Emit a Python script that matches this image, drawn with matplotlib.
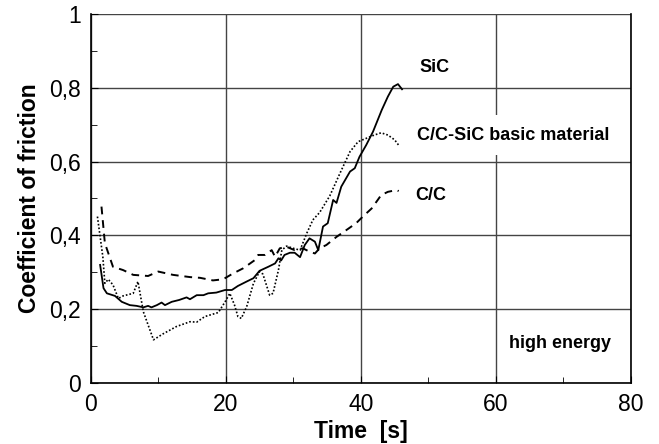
import numpy as np
import matplotlib.pyplot as plt

plt.rcParams['font.family'] = ['Liberation Sans', 'DejaVu Sans']

# SiC (solid)
sic_t = [1.4, 1.9, 2.4, 3.6, 4.6, 5.8, 6.8, 7.8, 8.5, 9.0, 9.8, 10.5, 11.0, 12.0, 13.1,
         14.2, 14.7, 15.7, 16.7, 17.4, 18.6, 19.9, 20.9, 21.8, 23.1, 24.1, 25.0, 26.3,
         27.3, 27.8, 28.2, 28.7, 29.5, 30.2, 31.0, 31.7, 32.4, 33.2, 33.7, 34.4, 35.1,
         35.9, 36.4, 37.1, 38.4, 39.1, 39.8, 40.8, 41.8, 43.1, 44.0, 44.8, 45.5, 46.1]
sic_mu = [0.32, 0.257, 0.243, 0.236, 0.220, 0.211, 0.209, 0.205, 0.209, 0.205, 0.211, 0.218,
          0.211, 0.220, 0.225, 0.232, 0.227, 0.238, 0.238, 0.243, 0.245, 0.252, 0.252, 0.263,
          0.275, 0.284, 0.304, 0.315, 0.324, 0.338, 0.332, 0.347, 0.353, 0.353, 0.341, 0.374,
          0.392, 0.383, 0.36, 0.424, 0.433, 0.496, 0.488, 0.532, 0.573, 0.582, 0.613, 0.645,
          0.681, 0.74, 0.776, 0.803, 0.81, 0.796]

# C/C-SiC basic material (dotted)
ccsic_t = [1.0, 1.8, 2.1, 2.6, 3.3, 4.1, 4.8, 6.3, 7.0, 7.8, 9.3, 10.7, 12.7, 14.7, 15.7,
           16.9, 18.9, 19.9, 20.6, 21.3, 21.8, 22.3, 23.1, 24.1, 25.0, 25.5, 26.5, 27.0,
           27.8, 28.3, 29.0, 30.0, 31.0, 32.0, 32.9, 33.9, 35.4, 36.9, 38.4, 39.6, 40.8,
           42.0, 43.0, 44.0, 45.0, 45.7]
ccsic_mu = [0.451, 0.342, 0.270, 0.281, 0.266, 0.229, 0.236, 0.243, 0.275, 0.193, 0.117, 0.133,
            0.153, 0.166, 0.165, 0.18, 0.191, 0.220, 0.243, 0.211, 0.18, 0.175, 0.207, 0.27,
            0.302, 0.295, 0.238, 0.243, 0.306, 0.36, 0.371, 0.365, 0.36, 0.406, 0.442, 0.462,
            0.507, 0.568, 0.627, 0.654, 0.663, 0.672, 0.678, 0.672, 0.659, 0.642]

# C/C (dashed)
cc_t = [1.6, 2.1, 3.3, 4.8, 6.3, 8.5, 10.0, 12.2, 14.7, 16.2, 18.1, 19.6, 21.1, 22.6, 24.3,
        24.8, 25.8, 26.8, 27.3, 28.0, 29.0, 30.2, 31.4, 32.4, 33.2, 33.9, 34.9, 36.4, 37.9,
        39.3, 40.3, 41.6, 42.5, 43.0, 44.0, 45.3, 45.6]
cc_mu = [0.478, 0.379, 0.315, 0.306, 0.293, 0.290, 0.302, 0.293, 0.287, 0.285, 0.278, 0.281,
         0.297, 0.311, 0.333, 0.347, 0.347, 0.36, 0.342, 0.365, 0.369, 0.36, 0.365, 0.356,
         0.351, 0.365, 0.374, 0.396, 0.415, 0.433, 0.451, 0.473, 0.496, 0.509, 0.518, 0.523, 0.52]

yticks = [0, 0.2, 0.4, 0.6, 0.8, 1]
ytick_labels = ['0', '0,2', '0,4', '0,6', '0,8', '1']
xticks = [0, 20, 40, 60, 80]

fig = plt.figure(figsize=(6.59, 4.44), dpi=100)
ax = fig.add_axes([0.1376, 0.1374, 0.8199, 0.8311])

ax.plot(sic_t, sic_mu, color='black', lw=1.3, ls='-')
ax.plot(ccsic_t, ccsic_mu, color='black', lw=1.2, ls=(0, (1, 1.2)))
ax.plot(cc_t, cc_mu, color='black', lw=1.4, ls=(0, (4, 3)))

ax.set_xlim(0, 80)
ax.set_ylim(0, 1)
ax.set_xticks(xticks)
ax.set_xticks([10, 30, 50, 70], minor=True)
ax.set_yticks(yticks)
ax.set_yticklabels(ytick_labels)
ax.set_yticks([0.1, 0.3, 0.5, 0.7, 0.9], minor=True)
ax.grid(True, which='major', color='#444444', lw=1.0)
ax.set_axisbelow(True)
ax.tick_params(which='both', direction='in', labelsize=16.5, color='black')
ax.tick_params(which='major', length=5, pad=7)
ax.tick_params(which='minor', length=4)
ax.spines['top'].set_visible(False)
for s in ['left', 'bottom', 'right']:
    ax.spines[s].set_linewidth(1.2)

ax.set_xlabel('Time  [s]', fontsize=16.5, fontweight='bold', labelpad=3)
ax.set_ylabel('Coefficient of friction', fontsize=16.5, fontweight='bold', labelpad=6)

kw = dict(fontsize=13, fontweight='bold', va='center', ha='left')
ax.text(48.7, 0.854, 'SiC', **kw)
ax.text(48.3, 0.672, 'C/C-SiC basic material',
        bbox=dict(facecolor='white', edgecolor='none', pad=8), **kw)
ax.text(48.0, 0.509, 'C/C', **kw)
ax.text(62.0, 0.108, 'high energy', **kw)

fig.savefig('out.png', dpi=100)
